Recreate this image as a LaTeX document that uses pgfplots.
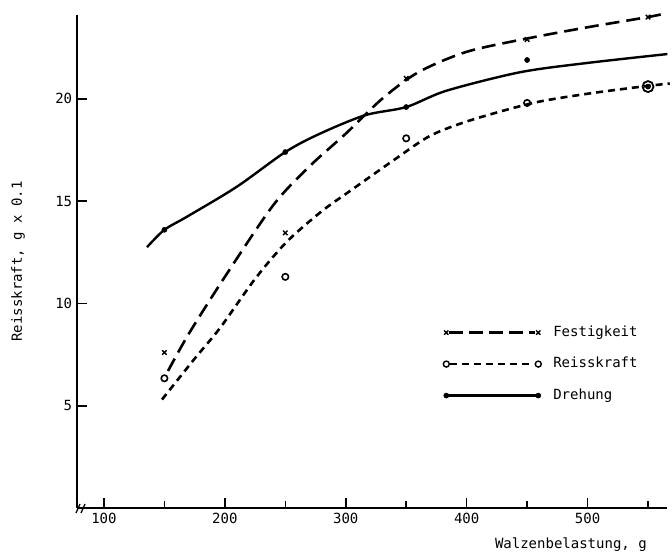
\documentclass[border=0pt]{standalone}
\usepackage{fontspec}
\setmainfont{DejaVu Sans Mono}
\usepackage{pgfplots}
\pgfplotsset{compat=1.18}
\begin{document}
\fontsize{14}{16}\selectfont
\begin{tikzpicture}
\path[use as bounding box] (-77pt,-45pt) rectangle (595pt,508pt);
\begin{axis}[
  at={(0pt,0pt)}, anchor=south west,
  scale only axis, width=590pt, height=493pt,
  xmin=77.7, xmax=565.7, ymin=0, ymax=24.1,
  axis x line*=bottom, axis y line*=left,
  axis line style={line width=2.2pt, -},
  xtick={100,200,300,400,500}, minor xtick={150,250,350,450,550},
  ytick={5,10,15,20},
  tick style={line width=1.6pt, black},
  major tick length=10pt, minor tick length=7pt,
  tick align=inside,
  /pgf/number format/assume math mode=true,
  ticklabel style={font=\fontsize{14}{16}\selectfont},
  xlabel={Walzenbelastung, g},
  xlabel style={at={(axis description cs:0.966,-0.060)}, anchor=north east, inner sep=0pt, font=\fontsize{14}{16}\selectfont},
  ylabel={Reisskraft, g x 0.1},
  ylabel style={at={(axis description cs:-0.10,0.5)}, anchor=center, inner sep=0pt, font=\fontsize{14}{16}\selectfont},
  clip=false,
  legend cell align=left,
  legend style={draw=none, fill=none, inner sep=0pt, at={(axis cs:380.5,9.0)}, anchor=north west,
    row sep=14.5pt, font=\fontsize{14}{16}\selectfont,
    nodes={text height=10pt, text depth=3pt, inner sep=2pt},
    /tikz/every odd column/.append style={column sep=10pt}},
]
% legend images
\addlegendimage{legend image code/.code={
  \draw[line width=2.5pt, dash pattern=on 14pt off 6pt] (3pt,0pt) -- (89pt,0pt);
  \draw[line width=1.4pt] plot[only marks, mark=x, mark size=3pt] coordinates {(0pt,0pt) (92pt,0pt)};}}
\addlegendentry{Festigkeit}
\addlegendimage{legend image code/.code={
  \draw[line width=2.5pt, dash pattern=on 7pt off 5pt] (4pt,0pt) -- (88pt,0pt);
  \draw[line width=1.4pt] plot[only marks, mark=o, mark size=3pt] coordinates {(0pt,0pt) (92pt,0pt)};}}
\addlegendentry{Reisskraft}
\addlegendimage{legend image code/.code={
  \draw[line width=2.2pt] (0pt,0pt) -- (92pt,0pt);
  \fill plot[only marks, mark=*, mark size=2.6pt] coordinates {(0pt,0pt) (92pt,0pt)};}}
\addlegendentry{Drehung}

% Festigkeit curve (long dash)
\addplot[forget plot, smooth, tension=0.5, line width=2.6pt, dash pattern=on 14pt off 7pt] coordinates {
 (153,6.7) (170,8.5) (200,11.3) (240,14.8) (270,16.7) (300,18.3) (330,20.0) (360,21.3)
 (400,22.3) (450,22.95) (500,23.5) (550,24.0) (566,24.2)};
% Reisskraft curve (short dash)
\addplot[forget plot, smooth, tension=0.5, line width=2.6pt, dash pattern=on 7pt off 5pt] coordinates {
 (148,5.3) (175,7.3) (196,8.8) (225,11.2) (251,13.0) (280,14.5) (306,15.6) (342,17.1)
 (370,18.2) (403,18.95) (455,19.8) (500,20.25) (545,20.6) (568,20.75)};
% Drehung curve (solid)
\addplot[forget plot, smooth, tension=0.5, line width=2.4pt] coordinates {
 (135.6,12.75) (150,13.6) (168.4,14.23) (209.8,15.7) (250,17.4) (278.7,18.3) (316,19.2)
 (350,19.6) (383.4,20.4) (444,21.3) (499,21.75) (566,22.19)};

% measured points
\addplot[forget plot, only marks, mark=x, mark size=3.2pt, line width=1.4pt] coordinates {
 (150,7.6) (250,13.45) (350,21.0) (450,22.9) (550,24.0)};
\addplot[forget plot, only marks, mark=o, mark size=3.2pt, line width=1.6pt] coordinates {
 (150,6.34) (250,11.3) (350,18.07) (450,19.8)};
\addplot[forget plot, only marks, mark=o, mark size=5.5pt, line width=1.8pt] coordinates {
 (550,20.6)};
\addplot[forget plot, only marks, mark=*, mark size=2.6pt] coordinates {
 (150,13.6) (250,17.4) (350,19.6) (450,21.9) (550,20.6)};

% axis break marks
\draw[line width=1.3pt] ([xshift=-1pt,yshift=-5pt]rel axis cs:0,0) -- ++(4pt,9pt);
\draw[line width=1.3pt] ([xshift=4pt,yshift=-5pt]rel axis cs:0,0) -- ++(4pt,9pt);
\end{axis}
\end{tikzpicture}
\end{document}
